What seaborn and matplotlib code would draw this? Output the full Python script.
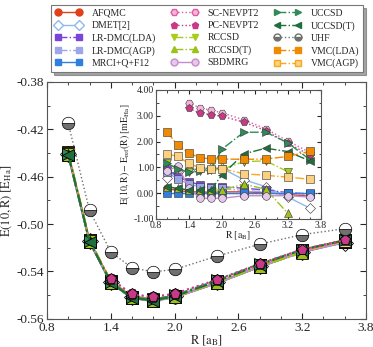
import numpy as np
import matplotlib
matplotlib.use("Agg")
import matplotlib.pyplot as plt
from matplotlib.lines import Line2D
from matplotlib.ticker import MultipleLocator
import seaborn as sns

# bond lengths R [a_B]
R = [1.0, 1.2, 1.4, 1.6, 1.8, 2.0, 2.4, 2.8, 3.2, 3.6]

# reference energy per atom (MRCI+Q+F12) [E_Ha]
e_ref = [-0.4418, -0.5150, -0.5495, -0.5625, -0.5646, -0.5618, -0.5497, -0.5360, -0.5234, -0.5150]
# UHF energy per atom [E_Ha]
e_uhf = [-0.4150, -0.4885, -0.5235, -0.5369, -0.5403, -0.5383, -0.5270, -0.5170, -0.5089, -0.5039]

# deviations from the reference [mE_Ha]
nan = np.nan
d_afqmc = [0.18, 0.10, 0.05, 0.05, 0.03, 0.05, 0.05, 0.02, -0.05, -0.12]
d_dmet = [0.60, 0.80, 0.90, 0.95, 0.98, 0.96, 0.52, 0.25, -0.15, -0.58]
d_lrdmc_lda = [0.93, 0.64, 0.45, 0.32, 0.25, 0.25, 0.19, 0.12, 0.02, -0.03]
d_lrdmc_agp = [0.80, 0.55, 0.35, 0.25, 0.20, 0.18, 0.10, 0.05, 0.00, -0.05]
d_mrci = [0.0, 0.0, 0.0, 0.0, 0.0, 0.0, 0.0, 0.0, 0.0, 0.0]
d_sc_nevpt2 = [nan, nan, 3.50, 3.30, 3.22, 3.11, 2.84, 2.49, 2.02, 1.58]
d_pc_nevpt2 = [nan, nan, 3.28, 3.11, 3.04, 2.98, 2.75, 2.42, 1.93, 1.48]
d_rccsd = [1.15, 0.95, 0.80, 0.85, 0.90, 0.92, 1.22, 1.25, 0.83, nan]
d_rccsd_t = [0.25, 0.18, 0.12, 0.12, 0.12, 0.12, 0.35, 0.15, -0.78, nan]
d_sbdmrg = [0.85, 1.05, 0.20, -0.20, -0.20, -0.20, -0.10, -0.10, -0.10, -0.15]
d_uccsd = [1.15, 0.95, 0.80, 0.85, 0.90, 1.70, 2.36, 2.36, 1.95, 1.30]
d_uccsd_t = [0.25, 0.18, 0.12, 0.12, 0.12, 0.70, 1.52, 1.74, 1.61, 1.25]
d_vmc_lda = [2.38, 1.85, 1.55, 1.37, 1.33, 1.32, 1.31, 1.32, 1.42, 1.62]
d_vmc_agp = [1.52, 1.42, 1.15, 0.98, 0.92, 0.95, 0.75, 0.69, 0.62, 0.54]

# tick labels (as printed on the original figure)
main_xticks = [0.8, 1.4, 2.0, 2.6, 3.2, 3.8]
main_yticks = [-0.58, -0.54, -0.50, -0.46, -0.42, -0.38]
main_ylabels = ["-0.56", "-0.54", "-0.50", "-0.46", "-0.42", "-0.38"]
inset_yticks = [-1, 0, 1, 2, 3, 4]
inset_ylabels = ["-1.00", "0.00", "1.00", "2.00", "3.00", "4.00"]

# name, deviations, colour, marker, linestyle, facecolor
methods = [
    ("AFQMC", d_afqmc, "#e0401a", "o", "-", "#e0401a"),
    ("DMET[2]", d_dmet, "#8fb8ec", "D", "-", "white"),
    ("LR-DMC(LDA)", d_lrdmc_lda, "#7a45d8", "s", "-.", "#7a45d8"),
    ("LR-DMC(AGP)", d_lrdmc_agp, "#9da6e6", "s", "-.", "#9da6e6"),
    ("MRCI+Q+F12", d_mrci, "#2f7fe0", "s", "-", "#2f7fe0"),
    ("SC-NEVPT2", d_sc_nevpt2, "#e05aa6", "H", ":", "#f3b6d8"),
    ("PC-NEVPT2", d_pc_nevpt2, "#c83a86", "p", ":", "#c83a86"),
    ("RCCSD", d_rccsd, "#a8cc1c", "v", "-.", "#a8cc1c"),
    ("RCCSD(T)", d_rccsd_t, "#9cc21a", "^", "-.", "#9cc21a"),
    ("SBDMRG", d_sbdmrg, "#c48ccc", "o", "-", "#e6c8ea"),
    ("UCCSD", d_uccsd, "#2e8b57", ">", "-.", "#2e8b57"),
    ("UCCSD(T)", d_uccsd_t, "#1f6e3e", "<", "-.", "#1f6e3e"),
    ("VMC(LDA)", d_vmc_lda, "#f08a00", "s", "-.", "#f08a00"),
    ("VMC(AGP)", d_vmc_agp, "#f7a81b", "s", "-.", "#fbd080"),
]
uhf_color = "#707070"

sns.set_style("ticks")
plt.rcParams["font.family"] = ["Liberation Serif", "DejaVu Serif"]
plt.rcParams["mathtext.fontset"] = "stix"
plt.rcParams["xtick.direction"] = "in"
plt.rcParams["ytick.direction"] = "in"

fig = plt.figure(figsize=(3.73, 3.47), dpi=100)
ax = fig.add_axes([0.126, 0.081, 0.855, 0.683])
axin = fig.add_axes([0.418, 0.369, 0.442, 0.372])

e_ref_arr = np.array(e_ref)

# ---- main panel: total energies
draw_order = [0, 1, 2, 3, 4, 9, 12, 13, 7, 8, 10, 11, 5, 6]
for i in draw_order:
    name, dev, col, mk, ls, fc = methods[i]
    energy = e_ref_arr + np.array(dev) / 1000.0
    sns.lineplot(x=R, y=energy, ax=ax, color=col, linestyle=ls, lw=1.4,
                 marker=mk, markersize=8, markerfacecolor=fc,
                 markeredgecolor="k", markeredgewidth=0.6, errorbar=None)
sns.lineplot(x=R, y=e_uhf, ax=ax, color=uhf_color, linestyle=":", lw=1.0,
             marker="o", markersize=9, fillstyle="bottom",
             markerfacecolor=uhf_color, markerfacecoloralt="white",
             markeredgecolor="k", markeredgewidth=0.5, errorbar=None)

ax.set_xlim(0.8, 3.8)
ax.set_ylim(-0.58, -0.38)
ax.set_xticks(main_xticks)
ax.set_xticklabels([f"{v:.1f}" for v in main_xticks])
ax.set_yticks(main_yticks)
ax.set_yticklabels(main_ylabels)
ax.xaxis.set_minor_locator(MultipleLocator(0.2))
ax.yaxis.set_minor_locator(MultipleLocator(0.02))
ax.tick_params(which="both", top=True, right=True, labelsize=9.5, pad=2)
ax.tick_params(which="major", length=4)
ax.tick_params(which="minor", length=2.5)
ax.set_xlabel(r"$\mathrm{R\ [a_B]}$", fontsize=9, labelpad=0)
ax.set_ylabel(r"$\mathrm{E(10,R)\ [E_{Ha}]}$", fontsize=9, labelpad=2)
for s in ax.spines.values():
    s.set_color("#555555")

# ---- inset: deviation from reference
axin.axhline(0, color="k", ls=":", lw=0.9, zorder=0)
for name, dev, col, mk, ls, fc in methods:
    sns.lineplot(x=R, y=dev, ax=axin, color=col, linestyle=ls, lw=1.0,
                 marker=mk, markersize=5.5, markerfacecolor=fc,
                 markeredgecolor="#333333", markeredgewidth=0.4, errorbar=None)
axin.set_xlim(0.8, 3.8)
axin.set_ylim(-1.0, 4.0)
axin.set_xticks(main_xticks)
axin.set_xticklabels([f"{v:.1f}" for v in main_xticks])
axin.set_yticks(inset_yticks)
axin.set_yticklabels(inset_ylabels)
axin.xaxis.set_minor_locator(MultipleLocator(0.2))
axin.yaxis.set_minor_locator(MultipleLocator(0.5))
axin.tick_params(which="both", top=True, right=True, labelsize=7, pad=1.5)
axin.tick_params(which="major", length=3)
axin.tick_params(which="minor", length=1.8)
axin.set_xlabel(r"$\mathrm{R\ [a_B]}$", fontsize=7, labelpad=0)
axin.set_ylabel(r"$\mathrm{E(10,R)-E_{ref}(R)\ [mE_{Ha}]}$", fontsize=7, labelpad=1)
for s in axin.spines.values():
    s.set_color("#555555")

# ---- legend
handles = []
labels = []
for name, dev, col, mk, ls, fc in methods[:12]:
    handles.append(Line2D([], [], color=col, linestyle=ls, lw=1.0, marker=mk,
                          markersize=5, markerfacecolor=fc, markeredgecolor=col))
    labels.append(name)
handles.append(Line2D([], [], color=uhf_color, linestyle=":", lw=1.0, marker="o",
                      markersize=5, fillstyle="bottom", markerfacecolor=uhf_color,
                      markerfacecoloralt="white", markeredgecolor=uhf_color))
labels.append("UHF")
for name, dev, col, mk, ls, fc in methods[12:]:
    handles.append(Line2D([], [], color=col, linestyle=ls, lw=1.0, marker=mk,
                          markersize=5, markerfacecolor=fc, markeredgecolor=col))
    labels.append(name)

leg = fig.legend(handles, labels, loc="upper center", bbox_to_anchor=(0.555, 1.0),
                 ncol=3, fontsize=7, numpoints=2, handlelength=2.8,
                 columnspacing=1.5, labelspacing=0.33, handletextpad=1.0,
                 frameon=True, fancybox=False, shadow=True, borderpad=0.4)
leg.get_frame().set_edgecolor("#777777")
leg.get_frame().set_linewidth(0.8)

fig.savefig("out.png", dpi=100)
